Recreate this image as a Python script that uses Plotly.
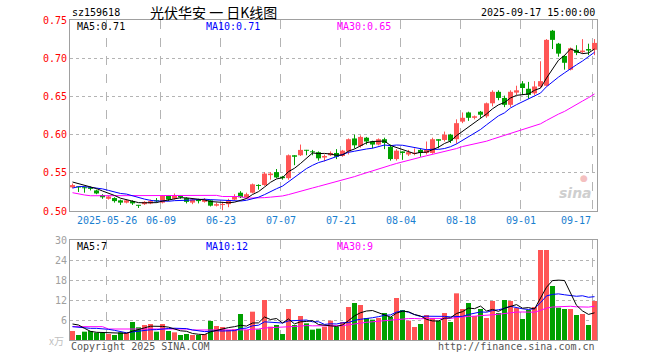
import plotly.graph_objects as go

# ---- data ----
opens = [0.531, 0.532, 0.531, 0.531, 0.527, 0.521, 0.516, 0.517, 0.514, 0.511,
         0.513, 0.508, 0.509, 0.510, 0.514, 0.511, 0.520, 0.516, 0.520, 0.517,
         0.511, 0.515, 0.512, 0.514, 0.507, 0.508, 0.509, 0.515, 0.524, 0.518,
         0.524, 0.534, 0.534, 0.547, 0.551, 0.545, 0.543, 0.573, 0.573, 0.580,
         0.578, 0.577, 0.570, 0.573, 0.576, 0.572, 0.578, 0.595, 0.585, 0.596,
         0.591, 0.587, 0.594, 0.584, 0.568, 0.578, 0.574, 0.575, 0.580, 0.576,
         0.576, 0.594, 0.593, 0.600, 0.594, 0.617, 0.629, 0.622, 0.630, 0.624,
         0.641, 0.656, 0.648, 0.639, 0.655, 0.667, 0.660, 0.654, 0.663, 0.664,
         0.736, 0.719, 0.703, 0.685, 0.711, 0.708, 0.712, 0.711]
highs = [0.536, 0.532, 0.532, 0.532, 0.528, 0.522, 0.520, 0.518, 0.515, 0.515,
         0.514, 0.508, 0.513, 0.515, 0.517, 0.521, 0.521, 0.523, 0.521, 0.518,
         0.516, 0.516, 0.517, 0.515, 0.511, 0.512, 0.516, 0.522, 0.526, 0.524,
         0.536, 0.535, 0.551, 0.551, 0.555, 0.546, 0.574, 0.573, 0.587, 0.580,
         0.580, 0.578, 0.574, 0.578, 0.581, 0.580, 0.595, 0.600, 0.599, 0.597,
         0.592, 0.595, 0.596, 0.587, 0.581, 0.578, 0.580, 0.582, 0.582, 0.591,
         0.596, 0.594, 0.604, 0.601, 0.620, 0.629, 0.630, 0.625, 0.631, 0.642,
         0.658, 0.658, 0.651, 0.658, 0.664, 0.670, 0.669, 0.670, 0.696, 0.725,
         0.737, 0.720, 0.704, 0.714, 0.717, 0.725, 0.719, 0.725]
lows = [0.530, 0.525, 0.524, 0.527, 0.522, 0.516, 0.515, 0.511, 0.508, 0.510,
        0.508, 0.504, 0.508, 0.509, 0.511, 0.510, 0.513, 0.515, 0.516, 0.510,
        0.509, 0.510, 0.511, 0.506, 0.506, 0.501, 0.505, 0.514, 0.517, 0.517,
        0.523, 0.528, 0.533, 0.541, 0.543, 0.541, 0.541, 0.560, 0.572, 0.573,
        0.573, 0.566, 0.565, 0.572, 0.568, 0.571, 0.574, 0.582, 0.583, 0.587,
        0.582, 0.586, 0.581, 0.566, 0.566, 0.567, 0.572, 0.573, 0.571, 0.574,
        0.575, 0.582, 0.591, 0.589, 0.588, 0.615, 0.618, 0.620, 0.622, 0.622,
        0.637, 0.645, 0.636, 0.636, 0.652, 0.652, 0.647, 0.652, 0.661, 0.663,
        0.712, 0.702, 0.685, 0.684, 0.704, 0.706, 0.704, 0.704]
closes = [0.534, 0.531, 0.530, 0.529, 0.523, 0.518, 0.519, 0.513, 0.511, 0.514,
          0.510, 0.507, 0.512, 0.513, 0.513, 0.520, 0.515, 0.521, 0.518, 0.512,
          0.515, 0.513, 0.515, 0.507, 0.509, 0.509, 0.514, 0.519, 0.518, 0.522,
          0.535, 0.533, 0.549, 0.549, 0.544, 0.543, 0.573, 0.571, 0.580, 0.579,
          0.577, 0.569, 0.572, 0.576, 0.571, 0.579, 0.594, 0.586, 0.597, 0.591,
          0.587, 0.594, 0.589, 0.568, 0.579, 0.576, 0.577, 0.576, 0.576, 0.580,
          0.594, 0.592, 0.600, 0.592, 0.615, 0.622, 0.622, 0.624, 0.626, 0.641,
          0.656, 0.648, 0.639, 0.656, 0.658, 0.661, 0.652, 0.663, 0.670, 0.724,
          0.724, 0.706, 0.694, 0.713, 0.707, 0.710, 0.710, 0.720]
volumes = [2.7, 1.5, 2.5, 2.7, 2.2, 2.2, 1.8, 1.5, 2.3, 2.2,
           5.4, 3.8, 4.5, 4.8, 2.5, 4.8, 2.7, 2.3, 1.5, 1.8,
           1.5, 1.5, 1.8, 5.7, 4.2, 3.9, 3.0, 3.2, 7.8, 3.0,
           8.5, 3.2, 12.0, 4.0, 4.5, 1.8, 9.3, 4.5, 7.2, 5.0,
           3.1, 3.4, 4.0, 5.8, 4.0, 5.4, 9.9, 11.1, 10.5, 6.6,
           6.1, 6.6, 8.1, 6.9, 12.6, 9.0, 5.8, 3.9, 4.8, 7.5,
           6.6, 5.7, 8.1, 5.4, 14.0, 9.3, 11.1, 7.2, 9.3, 6.6,
           11.7, 8.1, 12.0, 11.7, 9.6, 6.3, 9.0, 9.9, 27.0, 27.0,
           16.2, 9.7, 9.3, 9.3, 7.5, 7.8, 4.5, 11.7]

# moving-average values at the start of the window (history before the window)
ma5_head = [0.538, 0.536, 0.534, 0.531]
ma10_head = [0.530, 0.532, 0.532, 0.531, 0.530, 0.529, 0.527, 0.525, 0.523]
ma30_head = [0.524, 0.522, 0.521, 0.520, 0.520, 0.520, 0.520, 0.520, 0.520, 0.520,
             0.5205, 0.5205, 0.5205, 0.5205, 0.5205, 0.5205, 0.5205, 0.5205, 0.5205, 0.5205,
             0.5205, 0.5205, 0.5205, 0.5205, 0.5205, 0.519, 0.519, 0.519, 0.519]
vma5_head = [4.8, 4.5, 3.5, 2.6]
vma10_head = [4.0, 3.8, 3.6, 3.5, 3.5, 3.4, 3.2, 2.9, 2.6]
vma30_head = [4.0, 4.0, 4.0, 4.0, 4.0, 4.0, 3.3, 3.3, 3.3, 3.3,
              3.3, 3.3, 3.3, 3.3, 3.3, 3.3, 3.3, 3.3, 3.3, 3.3,
              3.0, 3.0, 3.0, 3.0, 3.1, 3.1, 3.1, 3.1, 3.1]

tick_idx = [6, 15, 25, 35, 45, 55, 65, 75, 87]
tick_labels = ["2025-05-26", "06-09", "06-23", "07-07", "07-21",
               "08-04", "08-18", "09-01", "09-17"]
price_ticks = [0.50, 0.55, 0.60, 0.65, 0.70, 0.75]
vol_ticks = [6, 12, 18, 24, 30]

title_code = "sz159618"
title_name = "光伏华安 一 日K线图"
title_time = "2025-09-17 15:00:00"
price_legend = ["MA5:0.71", "MA10:0.71", "MA30:0.65"]
vol_legend = ["MA5:7", "MA10:12", "MA30:9"]

# ---- helpers ----
def moving_average(values, n, head):
    out = list(head)
    for i in range(len(head), len(values)):
        out.append(sum(values[i - n + 1:i + 1]) / n)
    return out

n = len(closes)
idx = list(range(n))
UP = "#ff5555"
DOWN = "#00a000"
is_up = [c >= o for o, c in zip(opens, closes)]
colors = [UP if u else DOWN for u in is_up]

MONO = "DejaVu Sans Mono"
GRID = "#b4b4b4"
BORDER = "#a0a0a0"

fig = go.Figure()

# candle bodies
min_h = 0.0013
body_h, body_b = [], []
for o, c in zip(opens, closes):
    h = abs(c - o)
    if h < min_h:
        body_h.append(min_h)
        body_b.append((o + c) / 2 - min_h / 2)
    else:
        body_h.append(h)
        body_b.append(min(o, c))

# wicks
for col, flag in ((UP, True), (DOWN, False)):
    wx, wy = [], []
    for k in idx:
        if is_up[k] == flag:
            wx += [k, k, None]
            wy += [lows[k], highs[k], None]
    fig.add_trace(go.Scatter(x=wx, y=wy, mode="lines", line=dict(color=col, width=1),
                             hoverinfo="skip", xaxis="x", yaxis="y"))

fig.add_trace(go.Bar(x=idx, y=body_h, base=body_b, width=0.83,
                     marker=dict(color=colors, line=dict(width=0)),
                     xaxis="x", yaxis="y"))

ma5 = moving_average(closes, 5, ma5_head)
ma10 = moving_average(closes, 10, ma10_head)
ma30 = moving_average(closes, 30, ma30_head)
for vals, col in ((ma30, "#ff00ff"), (ma10, "#0000ff"), (ma5, "#000000")):
    fig.add_trace(go.Scatter(x=idx, y=vals, mode="lines", line=dict(color=col, width=1),
                             xaxis="x", yaxis="y"))

# volume
fig.add_trace(go.Bar(x=idx, y=volumes, width=0.83,
                     marker=dict(color=colors, line=dict(width=0)),
                     xaxis="x2", yaxis="y2"))
vma5 = moving_average(volumes, 5, vma5_head)
vma10 = moving_average(volumes, 10, vma10_head)
vma30 = moving_average(volumes, 30, vma30_head)
for vals, col in ((vma30, "#ff00ff"), (vma10, "#0000ff"), (vma5, "#000000")):
    fig.add_trace(go.Scatter(x=idx, y=vals, mode="lines", line=dict(color=col, width=1),
                             xaxis="x2", yaxis="y2"))

xr = [-0.4167, n - 1 + 0.4167]
grid_x = [k - 0.3 for k in tick_idx]
xcommon = dict(range=xr, tickvals=grid_x, showticklabels=False, ticks="",
               showgrid=True, griddash="dash", gridcolor=GRID, gridwidth=1,
               showline=True, mirror=True, linecolor=BORDER, linewidth=1,
               zeroline=False, fixedrange=True)

fig.update_layout(
    width=660, height=360,
    margin=dict(l=70, r=63, t=20, b=20),
    plot_bgcolor="white", paper_bgcolor="white",
    showlegend=False, barmode="overlay",
    xaxis=dict(domain=[0, 1], anchor="y", **xcommon),
    xaxis2=dict(domain=[0, 1], anchor="y2", matches="x", **xcommon),
    yaxis=dict(domain=[0.403, 1], range=[0.50, 0.75], tickvals=price_ticks,
               ticktext=["%.2f" % v for v in price_ticks],
               tickfont=dict(family=MONO, size=10, color="#ff0000"),
               showgrid=True, griddash="dot", gridcolor=GRID, gridwidth=1,
               showline=True, mirror=True, linecolor=BORDER, linewidth=1,
               zeroline=False, ticks="", anchor="x", fixedrange=True),
    yaxis2=dict(domain=[0, 0.3125], range=[0, 30], tickvals=vol_ticks,
                ticktext=[str(v) for v in vol_ticks],
                tickfont=dict(family=MONO, size=10, color="#a0a0a0"),
                showgrid=True, griddash="dot", gridcolor=GRID, gridwidth=1,
                showline=True, mirror=True, linecolor=BORDER, linewidth=1,
                zeroline=False, ticks="", anchor="x2", fixedrange=True),
)

ann = []
# date labels
for k, lab in zip(grid_x, tick_labels):
    last = (lab == tick_labels[-1])
    ann.append(dict(x=k, xref="x", y=0.372, yref="paper", text=lab, showarrow=False,
                    xanchor="right" if last else "center", yanchor="middle",
                    font=dict(family=MONO, size=10, color="#1a80d0")))
# titles
ann.append(dict(x=0, xref="paper", y=1.022, yref="paper", text=title_code, showarrow=False,
                xanchor="left", yanchor="middle", font=dict(family=MONO, size=10, color="#000")))
ann.append(dict(x=0.272, xref="paper", y=1.024, yref="paper", text=title_name, showarrow=False,
                xanchor="center", yanchor="middle",
                font=dict(family="Noto Sans CJK SC", size=14, color="#000")))
ann.append(dict(x=1, xref="paper", y=1.022, yref="paper", text=title_time, showarrow=False,
                xanchor="right", yanchor="middle", font=dict(family=MONO, size=10, color="#000")))
# MA legends
leg_x = [0.0095, 0.254, 0.503]
leg_c = ["#000000", "#0000ff", "#ff00ff"]
for xx, t, c in zip(leg_x, price_legend, leg_c):
    ann.append(dict(x=xx, xref="paper", y=0.981, yref="paper", text=t, showarrow=False,
                    xanchor="left", yanchor="middle", font=dict(family=MONO, size=10, color=c)))
for xx, t, c in zip(leg_x, vol_legend, leg_c):
    ann.append(dict(x=xx, xref="paper", y=0.291, yref="paper", text=t, showarrow=False,
                    xanchor="left", yanchor="middle", font=dict(family=MONO, size=10, color=c)))
# unit, copyright, url
ann.append(dict(x=-0.008, xref="paper", y=0.0, yref="paper", text="x万", showarrow=False,
                xanchor="right", yanchor="middle",
                font=dict(family="Noto Sans CJK SC", size=10, color="#c0c0c0")))
ann.append(dict(x=-0.002, xref="paper", y=-0.02, yref="paper", text="Copyright 2025 SINA.COM",
                showarrow=False, xanchor="left", yanchor="middle",
                font=dict(family=MONO, size=10, color="#555555")))
ann.append(dict(x=1, xref="paper", y=-0.02, yref="paper", text="http://finance.sina.com.cn",
                showarrow=False, xanchor="right", yanchor="middle",
                font=dict(family=MONO, size=10, color="#555555")))
# watermark
ann.append(dict(x=0.995, xref="paper", y=0.46, yref="paper", text="<b><i>sina</i></b>",
                showarrow=False, xanchor="right", yanchor="middle",
                font=dict(family="DejaVu Sans", size=14, color="#cfcfcf")))
ann.append(dict(x=0.975, xref="paper", y=0.505, yref="paper", text="●",
                showarrow=False, xanchor="center", yanchor="middle",
                font=dict(family="DejaVu Sans", size=9, color="#f4c0c0")))
fig.update_layout(annotations=ann)

fig.write_html("out.html",
               config={"displayModeBar": False, "staticPlot": True},
               post_script="document.body.style.margin='0px';document.body.style.overflow='hidden';")
